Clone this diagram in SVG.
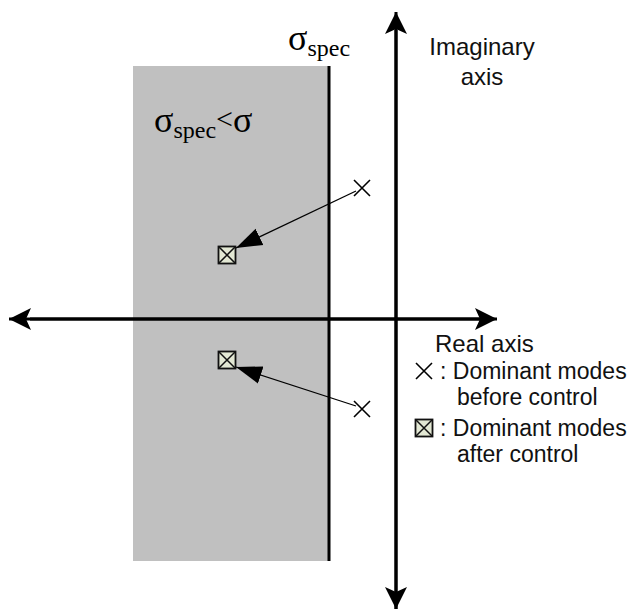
<svg xmlns="http://www.w3.org/2000/svg" width="640" height="613" viewBox="0 0 640 613">
<defs>
<style>
.ax{stroke:#000;stroke-width:3;fill:none}
.ptr{stroke:#000;stroke-width:1.3;fill:none}
.cross{stroke:#000;stroke-width:1.6;fill:none}
.sq{fill:#e3e8d4;stroke:#111;stroke-width:1.8}
.sqx{stroke:#111;stroke-width:1.5}
.sans{font-family:"Liberation Sans",Arial,sans-serif;font-size:24px;fill:#111}
.leg{font-family:"Liberation Sans",Arial,sans-serif;font-size:23px;fill:#111}
.ser{font-family:"Liberation Serif","Times New Roman",serif;fill:#000}
</style>
<marker id="axh" markerUnits="userSpaceOnUse" markerWidth="24" markerHeight="24" viewBox="0 0 24 24" refX="22" refY="12" orient="auto">
<path d="M0,1 L22,12 L0,23 L5,12 Z" fill="#000"/>
</marker>
<marker id="ph" markerUnits="userSpaceOnUse" markerWidth="28" markerHeight="20" viewBox="0 0 28 20" refX="26" refY="10" orient="auto">
<path d="M0,1 L26,10 L0,19 Z" fill="#000"/>
</marker>
<g id="crossSym"><path class="cross" d="M-8,-8 L8,8 M-8,8 L8,-8"/></g>
<g id="sqSym"><rect class="sq" x="-8.5" y="-8.5" width="17" height="17"/><path class="sqx" d="M-8,-8 L8,8 M-8,8 L8,-8"/></g>
</defs>
<rect width="640" height="613" fill="#fff"/>
<g id="region">
<rect x="133" y="66" width="196" height="495" fill="#c0c0c0"/>
<line class="ax" x1="329" y1="66" x2="329" y2="561"/>
</g>
<g id="connectors">
<line class="ax" x1="396" y1="609" x2="396" y2="12" marker-end="url(#axh)"/>
<line class="ax" x1="396" y1="30" x2="396" y2="609" marker-end="url(#axh)"/>
<line class="ax" x1="30" y1="319" x2="497" y2="319" marker-end="url(#axh)"/>
<line class="ax" x1="480" y1="319" x2="9" y2="319" marker-end="url(#axh)"/>
<line class="ptr" x1="356" y1="191" x2="236" y2="248" marker-end="url(#ph)"/>
<line class="ptr" x1="356" y1="406" x2="236" y2="367" marker-end="url(#ph)"/>
</g>
<g id="mode-before-1"><use href="#crossSym" x="362" y="188"/></g>
<g id="mode-after-1"><use href="#sqSym" x="227" y="255"/></g>
<g id="mode-before-2"><use href="#crossSym" x="362" y="409"/></g>
<g id="mode-after-2"><use href="#sqSym" x="227" y="360"/></g>
<g id="label-sigma-spec">
<text class="ser" x="288" y="50" font-size="36">σ<tspan font-size="24" dy="6">spec</tspan></text>
</g>
<g id="label-region">
<text class="ser" x="154" y="132" font-size="36">σ<tspan font-size="24" dy="6">spec</tspan><tspan font-size="30" dy="-9">&lt;</tspan><tspan font-size="36" dy="3">σ</tspan></text>
</g>
<g id="label-imag">
<text class="sans" x="482" y="55" text-anchor="middle">Imaginary</text>
<text class="sans" x="482" y="85" text-anchor="middle">axis</text>
</g>
<g id="label-real"><text class="sans" x="435" y="352">Real axis</text></g>
<g id="legend">
<use href="#crossSym" x="424" y="371"/>
<text class="leg" x="440" y="379">: Dominant modes</text>
<text class="leg" x="457" y="405">before control</text>
<use href="#sqSym" x="424" y="428"/>
<text class="leg" x="440" y="436">: Dominant modes</text>
<text class="leg" x="457" y="462">after control</text>
</g>
</svg>
